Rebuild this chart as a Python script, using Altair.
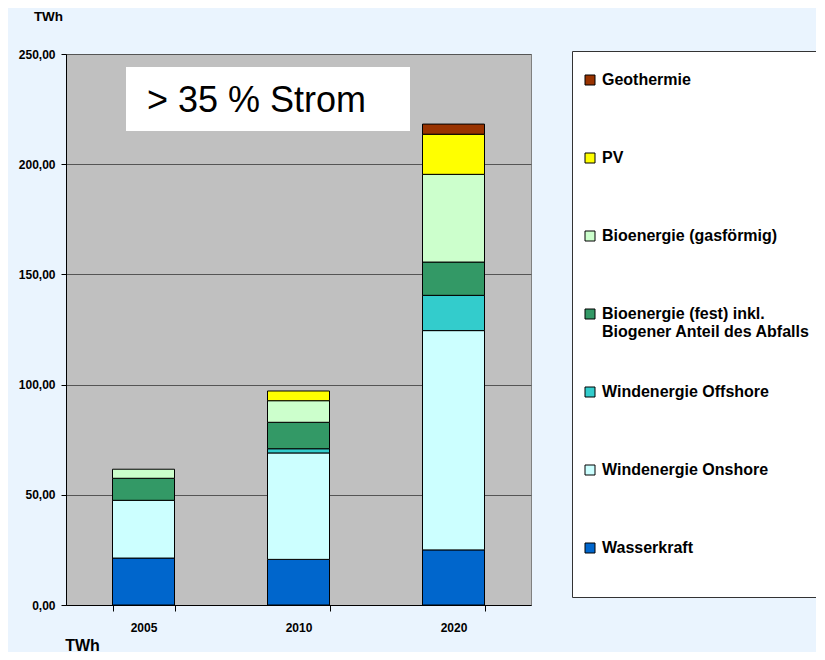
import altair as alt
import pandas as pd

years = ["2005", "2010", "2020"]
series = [
    "Wasserkraft",
    "Windenergie Onshore",
    "Windenergie Offshore",
    "Bioenergie (fest) inkl. Biogener Anteil des Abfalls",
    "Bioenergie (gasförmig)",
    "PV",
    "Geothermie",
]
colors = ["#0066CC", "#CCFFFF", "#33CCCC", "#339966", "#CCFFCC", "#FFFF00", "#993300"]

wasserkraft = [21.3, 20.7, 25.0]
wind_onshore = [26.2, 48.3, 99.5]
wind_offshore = [0.0, 1.9, 16.0]
bio_fest = [10.0, 12.0, 15.1]
bio_gas = [4.1, 9.8, 39.8]
pv = [0.0, 4.4, 18.2]
geothermie = [0.0, 0.0, 4.6]

values = [wasserkraft, wind_onshore, wind_offshore, bio_fest, bio_gas, pv, geothermie]

rows = []
for i, (name, vals) in enumerate(zip(series, values)):
    for y, v in zip(years, vals):
        if v > 0:
            rows.append({"Jahr": y, "Quelle": name, "Wert": v, "idx": i})
df = pd.DataFrame(rows)

annotation = "> 35 % Strom"
FONT = "Liberation Sans"

legend_order = series[::-1]
legend_colors = colors[::-1]

bars = alt.Chart(df).mark_bar(stroke="black", strokeWidth=1).encode(
    x=alt.X(
        "Jahr:N",
        scale=alt.Scale(paddingInner=0.6, paddingOuter=0.3),
        axis=alt.Axis(
            labelAngle=0,
            tickBand="extent",
            tickSize=6,
            tickColor="black",
            domainColor="black",
            labelPadding=11,
            labelFont=FONT,
            labelFontSize=12,
            labelFontWeight="bold",
            labelColor="black",
            grid=False,
            title="TWh",
            titleFont=FONT,
            titleFontSize=16,
            titleFontWeight="bold",
            titleColor="black",
            titleX=16,
            titleY=45,
            titleAlign="center",
            titleBaseline="alphabetic",
        ),
    ),
    y=alt.Y(
        "Wert:Q",
        stack="zero",
        scale=alt.Scale(domain=[0, 250], nice=False),
        axis=alt.Axis(
            values=[0, 50, 100, 150, 200, 250],
            labelExpr="replace(format(datum.value, '.2f'), '.', ',')",
            labelFont=FONT,
            labelFontSize=12,
            labelFontWeight="bold",
            labelColor="black",
            labelPadding=6,
            tickSize=5,
            tickColor="black",
            domainColor="black",
            gridColor="#555555",
            gridWidth=1,
            title="TWh",
            titleFont=FONT,
            titleFontSize=13.5,
            titleFontWeight="bold",
            titleColor="black",
            titleAngle=0,
            titleX=-18,
            titleY=-45,
            titleAlign="center",
            titleBaseline="top",
        ),
    ),
    color=alt.Color(
        "Quelle:N",
        scale=alt.Scale(domain=legend_order, range=legend_colors),
        legend=alt.Legend(
            orient="none",
            legendX=506,
            legendY=-3,
            title=" ",
            titleFontSize=1,
            titlePadding=-21,
            fillColor="white",
            strokeColor="#333333",
            padding=10,
            symbolType="square",
            symbolSize=100,
            symbolStrokeColor="black",
            symbolStrokeWidth=1,
            symbolOpacity=1,
            labelFont=FONT,
            labelFontSize=16,
            labelFontWeight="bold",
            labelColor="black",
            labelLimit=400,
            labelOffset=4,
            rowPadding=0,
            clipHeight=78,
            labelExpr="datum.label == 'Bioenergie (fest) inkl. Biogener Anteil des Abfalls' ? ['Bioenergie (fest) inkl.', 'Biogener Anteil des Abfalls'] : datum.label",
        ),
    ),
    order=alt.Order("idx:Q", sort="ascending"),
)

ann_df = pd.DataFrame({"t": [annotation]})
box = alt.Chart(ann_df).mark_rect(fill="white").encode(
    x=alt.value(60), x2=alt.value(344), y=alt.value(13), y2=alt.value(77)
)
txt = alt.Chart(ann_df).mark_text(
    align="left", baseline="alphabetic", font=FONT, fontSize=36, color="black"
).encode(x=alt.value(81), y=alt.value(58), text="t:N")

chart = (
    alt.layer(bars, box, txt)
    .properties(
        width=465,
        height=551,
        autosize=alt.AutoSizeParams(type="none"),
        padding={"left": 58, "top": 46, "right": 285, "bottom": 47},
    )
    .configure(background="#EAF4FE")
    .configure_view(fill="#C0C0C0", stroke="#808080", strokeWidth=1)
)

chart.save("out.html", embed_options={"renderer": "svg", "actions": False})
